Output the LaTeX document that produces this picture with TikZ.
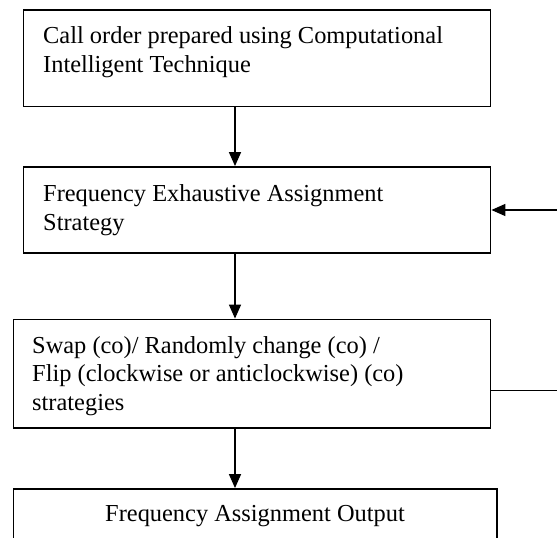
\documentclass[tikz,border=0pt]{standalone}
\usepackage{fontspec}
\setmainfont{Liberation Serif}
\usetikzlibrary{arrows.meta}
\begin{document}
\begin{tikzpicture}[x=1pt,y=-1pt,
  box/.style={draw=black, line width=1.8pt, inner sep=0pt, rectangle},
  txt/.style={anchor=base west, inner sep=0pt, font=\fontsize{24.4}{29}\selectfont},
  arr/.style={draw=black, line width=1.4pt, -{Triangle[length=14pt,width=12pt]}}]
\useasboundingbox (0,0) rectangle (557,538);
\clip (0,0) rectangle (557,538);
\fill[white] (0,0) rectangle (557,538);
% boxes
\node[box, minimum width=467pt, minimum height=96.5pt] (b1) at (257,58.25) {};
\node[box, minimum width=467pt, minimum height=86pt] (b2) at (257,210) {};
\node[box, minimum width=477pt, minimum height=108.5pt] (b3) at (252,373.75) {};
\node[box, minimum width=483.5pt, minimum height=71pt] (b4) at (255.25,524.5) {};
% texts
\node[txt] (t1a) at (43,43.3) {Call order prepared using Computational};
\node[txt] (t1b) at (43,72.5) {Intelligent Technique};
\node[txt] (t2a) at (43,201.7) {Frequency Exhaustive Assignment};
\node[txt] (t2b) at (43,230.7) {Strategy};
\node[txt] (t3a) at (32,353) {Swap (co)/ Randomly change (co) /};
\node[txt] (t3b) at (32,381.7) {Flip (clockwise or anticlockwise) (co)};
\node[txt] (t3c) at (32,410.5) {strategies};
\node[txt, anchor=base] (t4) at (255,521.7) {Frequency Assignment Output};
% connectors
\coordinate (ax) at (235,0);
\coordinate (fb) at (565,0);
\coordinate (fy) at (0,390.7);
\draw[arr] (b1.south -| ax) -- (b2.north -| ax);
\draw[arr] (b2.south -| ax) -- (b3.north -| ax);
\draw[arr] (b3.south -| ax) -- (b4.north -| ax);
\draw[arr] (b3.east |- fy) -- (fb |- fy) -- (fb |- b2.east) -- (b2.east);
\end{tikzpicture}
\end{document}
